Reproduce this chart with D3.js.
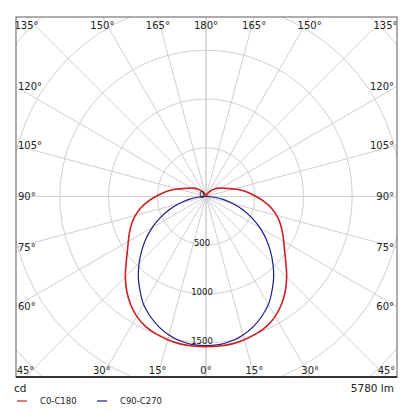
<!DOCTYPE html>
<html>
<head>
<meta charset="utf-8">
<script src="https://cdn.jsdelivr.net/npm/d3@7"></script>
<style>
  html, body { margin: 0; padding: 0; background: #fff; }
  svg { display: block; font-family: "DejaVu Sans", sans-serif; }
</style>
</head>
<body>
<svg id="chart" width="413" height="417"></svg>
<script>
// ---- data ----
const gammaAngles = [0,5,10,15,20,25,30,35,40,45,50,55,60,65,70,75,80,85,90,95,100,105,110,115,120,125,130,135,140,145,150,155,160,165,170,175,180];
const c0c180  = [1540,1540,1535,1520,1500,1470,1420,1350,1265,1170,1070,985,920,865,810,750,680,600,515,440,370,300,240,200,175,150,125,100,75,55,40,25,15,8,4,1,0];
const c90c270 = [1530,1525,1505,1470,1420,1355,1280,1180,1080,970,860,750,635,520,405,290,185,90,10,0,0,0,0,0,0,0,0,0,0,0,0,0,0,0,0,0,0];
const ringValues = [500,1000,1500,2000,2500,3000];
const ringLabels = [0,500,1000,1500];
const spokeAngles = [0,15,30,45,60,75,90,105,120,135,150,165,180];
const seriesNames = ["C0-C180","C90-C270"];
const seriesColors = ["#cc2020","#1a1a8a"];
const unitLabel = "cd";
const fluxLabel = "5780 lm";

// ---- layout ----
const svg = d3.select("#chart");
const box = {left: 16, right: 397, top: 17, bottom: 377};
const cx = 206, cy = 196.5;
const r = d3.scaleLinear().domain([0, 500]).range([0, 48.75]);

svg.append("defs").append("clipPath").attr("id","clip")
  .append("rect").attr("x",box.left).attr("y",box.top)
  .attr("width",box.right-box.left).attr("height",box.bottom-box.top);

const g = svg.append("g").attr("clip-path","url(#clip)");
const center = g.append("g").attr("transform",`translate(${cx},${cy})`);

// rings
center.selectAll("circle.ring").data(ringValues).enter().append("circle")
  .attr("class","ring").attr("r", d => r(d))
  .attr("fill","none").attr("stroke","#cfcfcf").attr("stroke-width",1);

// spokes (both sides)
const far = 600;
spokeAngles.forEach(a => {
  [1,-1].forEach(s => {
    const rad = a*Math.PI/180;
    center.append("line")
      .attr("x1",0).attr("y1",0)
      .attr("x2", s*far*Math.sin(rad)).attr("y2", far*Math.cos(rad))
      .attr("stroke","#cfcfcf").attr("stroke-width",1);
  });
});

// curves
function fullCurve(vals){
  const pts = [];
  for (let i = gammaAngles.length-1; i >= 0; i--) pts.push([Math.PI + gammaAngles[i]*Math.PI/180, r(vals[i])]);
  for (let i = 1; i < gammaAngles.length; i++) pts.push([Math.PI - gammaAngles[i]*Math.PI/180, r(vals[i])]);
  return pts;
}
const radial = d3.lineRadial().angle(d=>d[0]).radius(d=>d[1]).curve(d3.curveCatmullRom);

center.append("path").attr("d", radial(fullCurve(c90c270)))
  .attr("fill","none").attr("stroke",seriesColors[1]).attr("stroke-width",1.2);
center.append("path").attr("d", radial(fullCurve(c0c180)))
  .attr("fill","none").attr("stroke",seriesColors[0]).attr("stroke-width",1.6);

// ring labels
center.selectAll("text.rl").data(ringLabels).enter().append("text")
  .attr("x",-4).attr("y", d => r(d)+1)
  .attr("text-anchor","middle").attr("font-size",8.5).attr("fill","#111")
  .text(d => d);

// angle labels
const labG = svg.append("g").attr("font-size",10).attr("fill","#222");
spokeAngles.forEach(a => {
  [1,-1].forEach(s => {
    if ((a === 0 || a === 180) && s === -1) return;
    const rad = a*Math.PI/180;
    const dx = s*Math.sin(rad), dy = Math.cos(rad);
    const txt = a + "°";
    if (a <= 45 || a >= 135) {
      const yEdge = dy > 0 ? box.bottom : box.top;
      const t = (yEdge - cy)/dy;
      const x = cx + dx*t;
      labG.append("text").attr("x", x).attr("y", dy > 0 ? box.bottom - 3.5 : box.top + 11.5)
        .attr("text-anchor","middle").text(txt);
    } else {
      const xEdge = dx > 0 ? box.right : box.left;
      const t = (xEdge - cx)/dx;
      const y = cy + dy*t;
      labG.append("text").attr("x", dx > 0 ? box.right - 3 : box.left + 2)
        .attr("y", y + 3.6).attr("text-anchor", dx > 0 ? "end" : "start").text(txt);
    }
  });
});

// frame
svg.append("rect").attr("x",box.left).attr("y",box.top)
  .attr("width",box.right-box.left).attr("height",box.bottom-box.top)
  .attr("fill","none").attr("stroke","#777").attr("stroke-width",1.2);
svg.append("line").attr("x1",box.left).attr("x2",box.right).attr("y1",box.bottom).attr("y2",box.bottom)
  .attr("stroke","#111").attr("stroke-width",1.3);

// bottom texts
svg.append("text").attr("x",14).attr("y",392).attr("font-size",10.5).attr("fill","#222").text(unitLabel);
svg.append("text").attr("x",394).attr("y",392).attr("text-anchor","end").attr("font-size",10.5).attr("fill","#222").text(fluxLabel);

// legend
const legX = [17, 97];
seriesNames.forEach((n,i) => {
  svg.append("line").attr("x1",legX[i]).attr("x2",legX[i]+10).attr("y1",401).attr("y2",401)
    .attr("stroke",seriesColors[i]).attr("stroke-width",1.2);
  svg.append("text").attr("x",legX[i]+23).attr("y",404).attr("font-size",8.5).attr("fill","#222").text(n);
});
</script>
</body>
</html>
